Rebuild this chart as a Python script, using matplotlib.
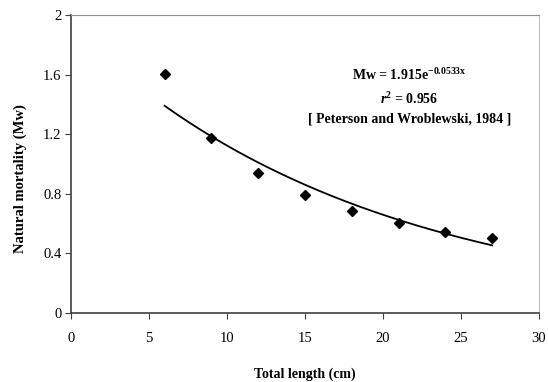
import numpy as np
import matplotlib
matplotlib.use("Agg")
import matplotlib.pyplot as plt

# observed points
length_cm = [6, 9, 12, 15, 18, 21, 24, 27]
mortality = [1.605, 1.173, 0.937, 0.789, 0.688, 0.603, 0.547, 0.503]

# trend line coefficients printed on the chart
fit_a = 1.915
fit_b = -0.0533

xticks = [0, 5, 10, 15, 20, 25, 30]
yticks = [0, 0.4, 0.8, 1.2, 1.6, 2]
ytick_labels = ["0", "0.4", "0.8", "1.2", "1.6", "2"]

plt.rcParams['font.family'] = ['Liberation Serif', 'DejaVu Serif']
plt.rcParams['mathtext.fontset'] = 'custom'
plt.rcParams['mathtext.rm'] = 'Liberation Serif'
plt.rcParams['mathtext.bf'] = 'Liberation Serif:bold'
plt.rcParams['mathtext.bfit'] = 'Liberation Serif:italic:bold'

fig = plt.figure(figsize=(5.48, 3.82), dpi=100)
ax = fig.add_axes([0.1296, 0.1806, 0.854, 0.78])

xs = np.linspace(min(length_cm), max(length_cm), 200)
ax.plot(xs, fit_a * np.exp(fit_b * xs), color="black", lw=1.3)
ax.plot(length_cm, mortality, "D", color="black", ms=5, mec="black")

ax.set_xlim(0, 30)
ax.set_ylim(0, 2)
ax.set_xticks(xticks)
ax.set_yticks(yticks)
ax.set_yticklabels(ytick_labels)
ax.tick_params(axis="x", direction="out", length=4, pad=10, labelsize=10.5, color="#404040")
ax.tick_params(axis="y", direction="out", length=4, pad=3, labelsize=10.5, color="#404040")

for s in ["left", "bottom"]:
    ax.spines[s].set_color("#404040")
    ax.spines[s].set_linewidth(1.2)
ax.spines["top"].set_color("#909090")
ax.spines["right"].set_color("#c0c0c0")

ax.set_xlabel("Total length (cm)", fontweight="bold", fontsize=10, labelpad=16)
ax.set_ylabel("Natural mortality (Mw)", fontweight="bold", fontsize=10.5)
ax.yaxis.set_label_coords(-0.094, 0.45)

ax.text(21.7, 1.6, r"Mw = 1.915e$^{\mathbf{-0.0533x}}$", ha="center", va="center",
        fontweight="bold", fontsize=10)
ax.text(21.7, 1.44, r"$\mathbfit{r}^{\mathbf{2}}$ = 0.956", ha="center", va="center",
        fontweight="bold", fontsize=10)
ax.text(21.7, 1.30, "[ Peterson and Wroblewski, 1984 ]", ha="center", va="center",
        fontweight="bold", fontsize=10)

fig.savefig("out.png", dpi=100)
